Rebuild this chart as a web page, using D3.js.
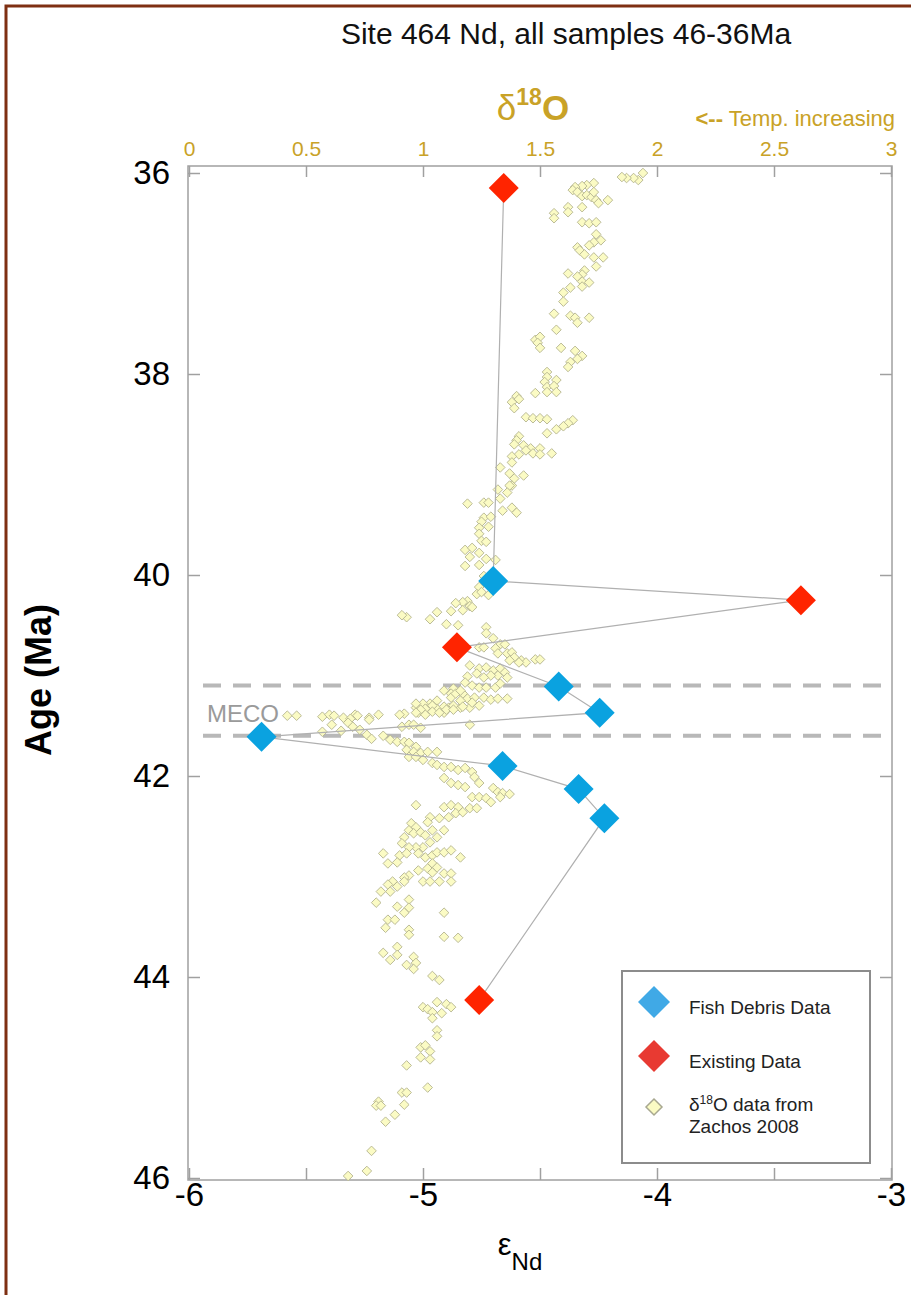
<!DOCTYPE html>
<html>
<head>
<meta charset="utf-8">
<script src="https://cdn.jsdelivr.net/npm/d3@7"></script>
<style>
  html, body { margin: 0; padding: 0; background: #fff; }
  svg { display: block; font-family: "Liberation Sans", Arial, sans-serif; }
</style>
</head>
<body>
<svg id="chart" width="911" height="1295"></svg>
<script>
// ---------- DATA ----------
const title = "Site 464 Nd, all samples 46-36Ma";
const epsTicks = [-6, -5.5, -5, -4.5, -4, -3.5, -3];
const d18OTicks = [0, 0.5, 1, 1.5, 2, 2.5, 3];
const ageTicks = [36, 38, 40, 42, 44, 46];
const mecoAges = [41.10, 41.60];

const fishAge = [40.06, 41.11, 41.37, 41.61, 41.90, 42.13, 42.42];
const fishEps = [-4.70, -4.42, -4.245, -5.69, -4.66, -4.335, -4.225];

const existingAge = [36.15, 40.25, 40.72, 44.23];
const existingEps = [-4.655, -3.385, -4.855, -4.76];

// δ18O (permil) vs age (Ma), Zachos 2008
const zachos = [
[1.94,36.00],[1.92,36.07],[1.90,36.05],[1.87,36.05],[1.85,36.04],
[1.73,36.10],[1.70,36.12],[1.68,36.13],[1.65,36.14],[1.64,36.17],[1.66,36.19],[1.68,36.23],[1.70,36.22],[1.72,36.24],[1.74,36.27],[1.75,36.30],[1.79,36.27],[1.73,36.19],
[1.62,36.34],[1.62,36.39],[1.56,36.40],[1.56,36.45],[1.68,36.34],
[1.68,36.49],[1.71,36.50],[1.74,36.49],
[1.74,36.61],[1.76,36.67],[1.73,36.69],[1.71,36.72],[1.66,36.74],[1.67,36.77],[1.69,36.81],[1.73,36.84],[1.77,36.84],[1.74,36.93],
[1.69,36.97],[1.68,37.01],[1.66,37.03],[1.62,37.00],[1.68,37.08],[1.71,37.09],[1.68,37.13],[1.63,37.14],
[1.60,37.19],[1.60,37.28],
[1.56,37.40],[1.63,37.42],[1.65,37.44],[1.66,37.49],[1.71,37.44],
[1.57,37.56],
[1.48,37.66],[1.50,37.63],[1.49,37.69],[1.50,37.74],
[1.59,37.74],[1.65,37.77],[1.68,37.82],[1.66,37.85],[1.63,37.88],[1.62,37.93],
[1.53,37.98],[1.53,38.03],[1.52,38.08],[1.57,38.06],[1.53,38.13],[1.56,38.12],[1.57,38.18],[1.53,38.18],[1.48,38.19],
[1.40,38.22],[1.38,38.28],[1.41,38.25],[1.39,38.34],
[1.44,38.43],[1.47,38.44],[1.50,38.44],[1.53,38.45],
[1.64,38.46],[1.62,38.49],[1.60,38.52],[1.57,38.55],[1.53,38.59],
[1.41,38.62],[1.40,38.66],[1.43,38.71],[1.46,38.74],[1.50,38.74],
[1.39,38.70],[1.44,38.76],[1.47,38.79],[1.50,38.80],[1.55,38.79],[1.41,38.80],[1.38,38.82],[1.38,38.88],
[1.33,38.93],[1.37,38.99],[1.39,39.04],[1.43,39.01],[1.38,39.11],[1.37,39.11],[1.32,39.15],[1.36,39.18],
[1.33,39.24],[1.19,39.29],[1.26,39.28],[1.28,39.28],[1.34,39.36],[1.38,39.33],[1.40,39.38],
[1.26,39.43],[1.29,39.42],[1.25,39.47],[1.28,39.52],[1.24,39.53],[1.24,39.59],[1.25,39.66],[1.27,39.67],
[1.18,39.75],[1.21,39.73],[1.24,39.78],[1.20,39.82],[1.27,39.84],[1.31,39.85],[1.24,39.90],[1.18,39.91],
[1.26,40.01],[1.24,40.12],[1.23,40.19],[1.25,40.17],[1.28,40.20],
[1.19,40.26],[1.20,40.31],[1.17,40.27],[1.14,40.28],[1.12,40.36],[1.17,40.35],[1.21,40.32],
[1.06,40.37],[1.03,40.44],[0.93,40.42],[0.91,40.40],
[1.10,40.49],[1.15,40.50],
[1.27,40.52],[1.27,40.58],[1.30,40.63],[1.33,40.69],[1.35,40.69],
[1.24,40.72],[1.26,40.72],[1.31,40.73],[1.32,40.78],[1.36,40.78],[1.38,40.77],[1.39,40.82],[1.42,40.85],[1.44,40.87],[1.41,40.87],[1.37,40.85],[1.48,40.84],[1.50,40.84],
[1.20,40.90],[1.24,40.93],[1.27,40.92],[1.30,40.95],[1.33,40.93],[1.35,40.97],[1.36,41.02],[1.32,41.00],[1.29,41.00],[1.26,41.02],[1.23,40.98],[1.19,41.01],[1.18,41.07],
[1.21,41.10],[1.24,41.12],[1.27,41.12],[1.31,41.12],[1.33,41.08],
[1.13,41.13],[1.09,41.15],[1.12,41.18],[1.17,41.18],[1.19,41.23],[1.22,41.22],[1.26,41.22],[1.29,41.24],[1.32,41.23],[1.36,41.23],
[1.06,41.25],[1.03,41.28],[1.00,41.28],[0.97,41.32],[1.01,41.33],[1.06,41.33],[1.11,41.32],[1.16,41.32],[1.20,41.32],[1.24,41.30],
[0.98,41.37],[1.01,41.39],[1.09,41.37],[0.92,41.38],
[0.97,41.28],[1.04,41.30],[1.09,41.31],[1.12,41.22],[1.14,41.18],[1.16,41.15],
[0.99,41.34],[1.04,41.36],[1.07,41.37],[1.10,41.34],[1.13,41.30],[1.16,41.25],[1.21,41.27],[1.17,41.31],[1.13,41.34],
[0.42,41.40],[0.46,41.40],[0.57,41.41],[0.60,41.39],[0.62,41.40],[0.66,41.42],[0.71,41.39],[0.77,41.42],[0.81,41.39],[0.90,41.39],[0.97,41.37],
[0.69,41.43],[0.72,41.40],[0.77,41.44],
[0.57,41.56],[0.61,41.49],[0.65,41.55],[0.68,41.47],[0.70,41.51],[0.73,41.54],[0.76,41.59],[0.78,41.63],[0.83,41.60],[0.86,41.64],[0.89,41.66],[0.91,41.51],[0.94,41.49],[0.96,41.49],[0.99,41.52],[0.92,41.66],[0.94,41.67],[0.97,41.71],[0.93,41.74],[0.96,41.76],[0.99,41.77],[1.02,41.76],[1.06,41.76],[0.94,41.81],[0.97,41.81],[1.00,41.84],[1.04,41.87],[1.06,41.89],[1.09,41.91],[1.12,41.91],[1.15,41.94],[1.18,41.92],[1.21,41.96],[1.20,41.49],
[1.09,42.02],[1.12,42.07],[1.15,42.09],[1.18,42.11],[1.22,42.01],[1.24,42.07],[1.21,42.21],[1.24,42.21],[1.27,42.22],[1.30,42.12],[1.29,42.26],[1.32,42.16],[1.34,42.17],[1.37,42.18],[1.33,42.21],
[0.97,42.29],[1.09,42.31],[1.12,42.29],[1.15,42.31],[1.20,42.32],[1.23,42.32],[1.14,42.37],[1.17,42.36],[1.11,42.41],[1.07,42.42],[1.03,42.41],[1.02,42.46],[0.95,42.47],[0.97,42.51],[0.94,42.54],[0.92,42.61],[0.96,42.57],[0.99,42.56],[1.01,42.59],[1.04,42.54],[1.06,42.61],[1.09,42.54],[1.03,42.66],[1.00,42.71],[0.97,42.71],[0.94,42.71],[0.91,42.67],[0.90,42.79],[0.93,42.77],[0.98,42.77],[1.01,42.81],[1.04,42.79],[1.06,42.76],[1.09,42.76],[1.12,42.74],[1.16,42.81],[0.83,42.77],[0.85,42.87],[0.89,42.86],[1.04,42.87],[1.02,42.92],[1.06,42.91],[0.98,42.94],[0.94,42.99],[0.92,43.01],[0.87,43.05],[0.85,43.08],[0.86,43.15],[0.89,43.10],[0.92,43.05],[1.00,43.05],[1.03,43.05],[1.04,42.96],[1.09,42.97],[1.12,42.97],[1.07,43.05],[1.12,43.05],[0.82,43.15],[0.80,43.26],[0.89,43.30],[0.94,43.23],[0.94,43.31],[0.92,43.36],[0.85,43.43],[0.84,43.51],[0.88,43.43],[0.94,43.53],[0.94,43.58],[1.09,43.36],[1.09,43.60],[1.15,43.61],
[0.83,43.76],[0.89,43.70],[0.89,43.78],[0.86,43.83],[0.96,43.80],[0.97,43.86],[0.93,43.88],[0.96,43.92],[1.04,43.99],[1.07,44.03],
[1.00,44.30],[1.02,44.32],[1.04,44.35],[1.04,44.41],[1.06,44.25],[1.08,44.36],[1.10,44.27],[1.12,44.30],[1.06,44.53],[1.06,44.59],[0.99,44.70],[1.01,44.68],[1.03,44.74],[0.99,44.80],[1.03,44.82],[0.93,44.88],[1.02,45.10],[0.91,45.15],[0.93,45.15],[0.92,45.27],[0.81,45.24],[0.80,45.28],[0.82,45.28],[0.88,45.37],[0.84,45.44],[0.78,45.73],[0.76,45.93],[0.68,45.98]
];

// ---------- LAYOUT ----------
const svg = d3.select("#chart");
const frame = {left: 188, right: 892, top: 166, bottom: 1180};
const gold = "#c9a227";

const x = d3.scaleLinear().domain([-6, -3]).range([189, 891]);
const xTop = d3.scaleLinear().domain([0, 3]).range([189, 891]);
const y = d3.scaleLinear().domain([36, 46]).range([173, 1178]);

// outer brown border
svg.append("rect").attr("x", 6).attr("y", 6).attr("width", 1000).attr("height", 1400)
  .attr("fill", "none").attr("stroke", "#7e2f12").attr("stroke-width", 3);

// title
svg.append("text").attr("x", 566).attr("y", 44).attr("text-anchor", "middle")
  .attr("font-size", 30).attr("fill", "#111").text(title);

// plot frame
svg.append("rect").attr("x", frame.left).attr("y", frame.top)
  .attr("width", frame.right - frame.left).attr("height", frame.bottom - frame.top)
  .attr("fill", "none").attr("stroke", "#a0a0a0").attr("stroke-width", 1.5);

function styleAxis(g, color, size) {
  g.select(".domain").remove();
  g.selectAll(".tick line").attr("stroke", "#a0a0a0").attr("stroke-width", 1.5);
  g.selectAll(".tick text").attr("fill", color).attr("font-size", size)
    .attr("font-family", "'Liberation Sans', Arial, sans-serif");
}

// bottom axis (εNd)
svg.append("g").attr("transform", `translate(0,${frame.bottom})`)
  .call(d3.axisBottom(x).tickValues(epsTicks).tickSize(-12).tickPadding(3)
    .tickFormat(d => Number.isInteger(d) ? String(d) : ""))
  .call(g => styleAxis(g, "#000", 33));

// top axis (δ18O)
svg.append("g").attr("transform", `translate(0,${frame.top})`)
  .call(d3.axisTop(xTop).tickValues(d18OTicks).tickSize(-11).tickPadding(10)
    .tickFormat(d => String(d)))
  .call(g => styleAxis(g, gold, 21));

// left axis (age)
svg.append("g").attr("transform", `translate(${frame.left},0)`)
  .call(d3.axisLeft(y).tickValues(ageTicks).tickSize(-12).tickPadding(18)
    .tickFormat(d => String(d)))
  .call(g => styleAxis(g, "#000", 33));

// right axis (ticks only)
svg.append("g").attr("transform", `translate(${frame.right},0)`)
  .call(d3.axisRight(y).tickValues(ageTicks).tickSize(-12).tickFormat(""))
  .call(g => styleAxis(g, "#000", 10));

// axis titles
svg.append("text").attr("transform", "translate(51,680) rotate(-90)")
  .attr("text-anchor", "middle").attr("font-size", 36).attr("font-weight", "bold")
  .attr("fill", "#000").text("Age (Ma)");

const d18Title = svg.append("text").attr("x", 533).attr("y", 120).attr("text-anchor", "middle")
  .attr("fill", gold).attr("font-size", 35);
d18Title.append("tspan").text("δ");
d18Title.append("tspan").attr("font-size", 23).attr("dy", -15).attr("font-weight", "bold").text("18");
d18Title.append("tspan").attr("dy", 15).attr("font-weight", "bold").text("O");

const tempLbl = svg.append("text").attr("x", 895).attr("y", 126).attr("text-anchor", "end")
  .attr("fill", gold).attr("font-size", 22);
tempLbl.append("tspan").attr("font-weight", "bold").text("<--");
tempLbl.append("tspan").text(" Temp. increasing");

const epsTitle = svg.append("text").attr("x", 520).attr("y", 1255).attr("text-anchor", "middle")
  .attr("fill", "#000").attr("font-size", 31);
epsTitle.append("tspan").text("ε");
epsTitle.append("tspan").attr("font-size", 24).attr("dy", 15).text("Nd");

// MECO dashed lines
svg.selectAll(".meco").data(mecoAges).enter().append("line")
  .attr("x1", 203).attr("x2", frame.right)
  .attr("y1", d => y(d)).attr("y2", d => y(d))
  .attr("stroke", "#b8b8b8").attr("stroke-width", 4).attr("stroke-dasharray", "18,12");
svg.append("text").attr("x", 207).attr("y", 722).attr("font-size", 24)
  .attr("fill", "#9a9a9a").text("MECO");

// diamond path
const diamond = r => `M0,${-r}L${r},0L0,${r}L${-r},0Z`;

// Zachos δ18O scatter
svg.append("g").selectAll("path").data(zachos).enter().append("path")
  .attr("d", diamond(4.8))
  .attr("transform", d => `translate(${xTop(d[0])},${y(d[1])})`)
  .attr("fill", "#fbfbc4").attr("stroke", "#b3b38e").attr("stroke-width", 0.9);

// Nd data combined & connected by age
const ndAll = fishAge.map((a, i) => ({age: a, eps: fishEps[i], type: "fish"}))
  .concat(existingAge.map((a, i) => ({age: a, eps: existingEps[i], type: "existing"})))
  .sort((a, b) => a.age - b.age);

svg.append("path").datum(ndAll)
  .attr("d", d3.line().x(d => x(d.eps)).y(d => y(d.age)))
  .attr("fill", "none").attr("stroke", "#b0b0b0").attr("stroke-width", 1.2);

const colors = {fish: "#0aa2e0", existing: "#ff2400"};
svg.append("g").selectAll("path").data(ndAll).enter().append("path")
  .attr("d", diamond(15))
  .attr("transform", d => `translate(${x(d.eps)},${y(d.age)})`)
  .attr("fill", d => colors[d.type]);

// legend
const lg = svg.append("g");
lg.append("rect").attr("x", 622).attr("y", 971).attr("width", 248).attr("height", 192)
  .attr("fill", "#fff").attr("stroke", "#8c8c8c").attr("stroke-width", 2);
const legendItems = [
  {color: "#40a9e6", r: 16, y: 1002, stroke: "none"},
  {color: "#e83a32", r: 16, y: 1056, stroke: "none"},
  {color: "#fbfbc4", r: 8, y: 1107, stroke: "#a8a890"}
];
legendItems.forEach(it => {
  lg.append("path").attr("d", diamond(it.r)).attr("transform", `translate(654,${it.y})`)
    .attr("fill", it.color).attr("stroke", it.stroke).attr("stroke-width", 1.5);
});
lg.append("text").attr("x", 689).attr("y", 1014).attr("font-size", 19).attr("fill", "#222").text("Fish Debris Data");
lg.append("text").attr("x", 689).attr("y", 1068).attr("font-size", 19).attr("fill", "#222").text("Existing Data");
const t3 = lg.append("text").attr("x", 689).attr("y", 1111).attr("font-size", 19).attr("fill", "#222");
t3.append("tspan").text("δ");
t3.append("tspan").attr("font-size", 12).attr("dy", -7).text("18");
t3.append("tspan").attr("dy", 7).text("O data from");
lg.append("text").attr("x", 689).attr("y", 1133).attr("font-size", 19).attr("fill", "#222").text("Zachos 2008");
</script>
</body>
</html>
